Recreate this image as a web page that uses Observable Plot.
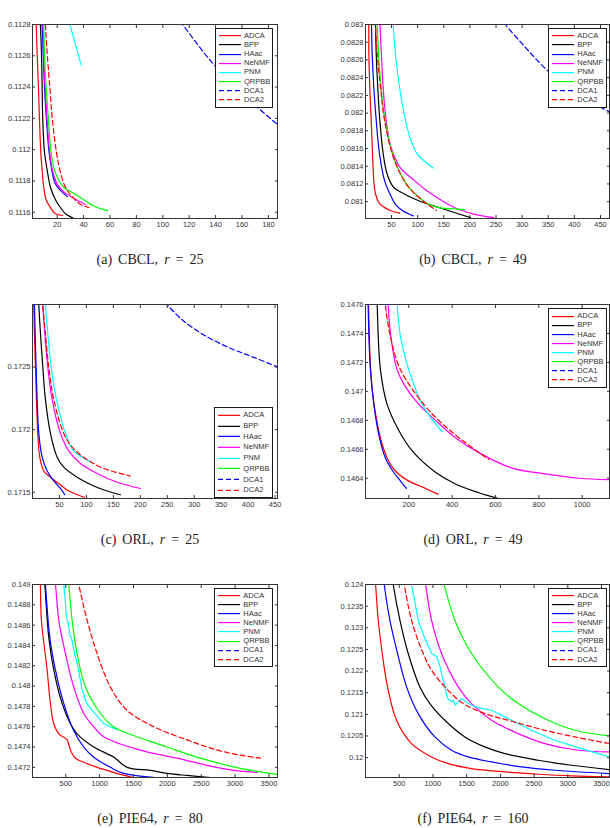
<!DOCTYPE html>
<html><head><meta charset="utf-8">
<script src="https://cdn.jsdelivr.net/npm/d3@7"></script>
<script src="https://cdn.jsdelivr.net/npm/@observablehq/plot@0.6"></script>
<style>
body{margin:0;background:#fff;}
#root{position:relative;width:610px;height:828px;overflow:hidden;background:#fff;}
.panel{position:absolute;}
.legend{position:absolute;background:#fff;border:1px solid #1a1a1a;box-sizing:border-box;font-family:"Liberation Sans",Arial,sans-serif;font-size:7.5px;color:#333;}
.legend .row{position:relative;}
.legend svg{position:absolute;left:3px;top:0;}
.legend span{position:absolute;left:28px;line-height:1;}
.caption{position:absolute;font-family:"Liberation Serif","Times New Roman",serif;font-size:14px;color:#222;transform:translate(-50%,-50%);white-space:nowrap;word-spacing:2.5px;}
</style>
</head><body><div id="root"></div>
<script>
// ---------- series definitions ----------
const seriesNames = ["ADCA","BPP","HAac","NeNMF","PNM","QRPBB","DCA1","DCA2"];
const seriesColors = ["#ff0000","#000000","#0000ff","#ff00ff","#00ffff","#00ff00","#0000ff","#ff0000"];
const seriesDash = [null,null,null,null,null,null,"5,3","5,3"];

// ---------- tick labels ----------
const xTicksA = [20,40,60,80,100,120,140,160,180];
const yTicksA = [0.1116,0.1118,0.112,0.1122,0.1124,0.1126,0.1128];
const xTicksB = [50,100,150,200,250,300,350,400,450];
const yTicksB = [0.081,0.0812,0.0814,0.0816,0.0818,0.082,0.0822,0.0824,0.0826,0.0828,0.083];
const xTicksC = [50,100,150,200,250,300,350,400,450];
const yTicksC = [0.1715,0.172,0.1725];
const xTicksD = [200,400,600,800,1000];
const yTicksD = [0.1464,0.1466,0.1468,0.147,0.1472,0.1474,0.1476];
const xTicksE = [500,1000,1500,2000,2500,3000,3500];
const yTicksE = [0.1472,0.1474,0.1476,0.1478,0.148,0.1482,0.1484,0.1486,0.1488,0.149];
const xTicksF = [500,1000,1500,2000,2500,3000,3500];
const yTicksF = [0.12,0.1205,0.121,0.1215,0.122,0.1225,0.123,0.1235,0.124];

// ---------- (a) CBCL, r = 25  (x,y pairs) ----------
const a_ADCA = [3.9,0.11285, 4.1,0.1128, 4.8,0.11262, 5.8,0.1124, 6.6,0.11219, 7.6,0.11198, 8.6,0.11187, 9.8,0.11176, 11.6,0.11168, 14.9,0.11163, 18.7,0.11159, 23.8,0.11158];
const a_BPP = [7.1,0.11285, 7.3,0.1128, 8.1,0.11262, 8.6,0.1124, 9.1,0.11219, 10.4,0.11198, 12.4,0.11187, 14.9,0.11176, 18.7,0.11168, 22.5,0.11163, 26.3,0.11159, 32.6,0.11156];
const a_HAac = [8.4,0.11285, 8.6,0.1128, 9.4,0.11262, 10.4,0.1124, 11.9,0.11219, 13.9,0.11198, 15.9,0.11187, 18.7,0.11178, 22.5,0.11174, 27.6,0.1117];
const a_NeNMF = [9.2,0.11285, 9.4,0.1128, 9.8,0.11262, 10.9,0.1124, 12.4,0.11219, 14.4,0.11198, 16.4,0.11187, 20,0.11178, 25,0.11173, 32.6,0.11169, 41.4,0.11165];
const a_PNM = [29,0.11282, 38.2,0.11254];
const a_QRPBB = [9.6,0.11285, 9.8,0.1128, 10.4,0.11262, 11.6,0.1124, 13.4,0.11219, 15.4,0.11198, 18.7,0.11185, 25,0.11176, 32.6,0.11172, 40.2,0.11168, 47.7,0.11164, 58.3,0.11161];
const a_DCA1 = [113,0.11282, 115,0.1128, 136,0.11257, 160,0.11236, 187,0.11216];
const a_DCA2 = [10.9,0.11285, 11.1,0.1128, 12.4,0.11262, 14.4,0.1124, 16.4,0.11219, 19.5,0.11198, 22,0.11187, 26.3,0.11176, 31.4,0.1117, 37.7,0.11165, 44,0.11163];

// ---------- (b) CBCL, r = 49 ----------
const b_ADCA = [6.3,0.08305, 6.5,0.083, 6.6,0.08267, 8.4,0.08229, 11.1,0.08192, 13.6,0.08154, 16.1,0.08124, 19.3,0.08109, 25.7,0.08099, 35.2,0.08094, 48,0.0809, 65.8,0.08087];
const b_BPP = [19.1,0.08305, 19.3,0.083, 20.7,0.08267, 23.7,0.08229, 27.6,0.08192, 34.1,0.08154, 41.7,0.08131, 54.4,0.08116, 73.5,0.08109, 102.2,0.08101, 137.4,0.08094, 169.2,0.08088, 201.1,0.08082];
const b_HAac = [11.5,0.08305, 11.7,0.083, 13,0.08267, 16.1,0.08229, 20.7,0.08192, 27,0.08154, 36.6,0.08124, 46.7,0.08109, 57.6,0.08097, 70.4,0.0809, 91.5,0.08084];
const b_NeNMF = [27.6,0.08305, 27.8,0.083, 30.6,0.08267, 34,0.08229, 39.6,0.08192, 48.8,0.08162, 66,0.08139, 93.5,0.08124, 118.3,0.08112, 147,0.08101, 175.7,0.08092, 207.5,0.08086, 245.7,0.08082];
const b_PNM = [52.8,0.08305, 53.2,0.083, 57.6,0.08267, 65.3,0.08229, 76.7,0.08192, 85,0.08173, 99.1,0.08154, 129.8,0.08138];
const b_QRPBB = [22,0.08305, 22.6,0.083, 25,0.08267, 30,0.08229, 37.5,0.08192, 52,0.08154, 67.5,0.08131, 83.5,0.08116, 102.2,0.08105, 118.3,0.08098, 143.7,0.08093, 169.2,0.08092, 189.7,0.08091];
const b_DCA1 = [266,0.08302, 268,0.083, 305,0.08275, 345,0.0825, 400,0.08224, 468,0.08201];
const b_DCA2 = [19.1,0.08305, 19.3,0.083, 22.6,0.08267, 28.9,0.08229, 36.6,0.08192, 51.3,0.08154, 67.2,0.08131, 83.1,0.08116, 102.2,0.08105, 121.3,0.08096, 136.1,0.0809];

// ---------- (c) ORL, r = 25 ----------
const c_ADCA = [2.2,0.17305, 2.4,0.173, 3.6,0.17277, 5.5,0.1725, 7.3,0.17224, 9.8,0.17197, 13.5,0.17178, 21,0.17167, 33.3,0.17162, 48.7,0.17157, 67.3,0.17151, 96.4,0.17146];
const c_BPP = [11.5,0.17305, 11.7,0.173, 14.8,0.17277, 19.1,0.1725, 24,0.17224, 33.3,0.17197, 45.7,0.17178, 58,0.1717, 82.8,0.17162, 113.7,0.17155, 138.5,0.17151, 163.2,0.17148];
const c_HAac = [3.4,0.17305, 3.6,0.173, 4.9,0.17277, 6.7,0.1725, 8.6,0.17224, 11.7,0.17197, 17.9,0.17178, 27.2,0.17167, 39.5,0.17159, 51.9,0.17153, 59.9,0.17148];
const c_NeNMF = [18.9,0.17305, 19.1,0.173, 22.8,0.17277, 28.4,0.1725, 36.5,0.17224, 51.9,0.17197, 67.3,0.17183, 89,0.17173, 120,0.17165, 157.1,0.17158, 200.3,0.17153];
const c_PNM = [23.8,0.17305, 24,0.173, 28.4,0.17277, 34.6,0.1725, 44.5,0.17224, 61.2,0.17197, 76.6,0.17183, 113.7,0.17173];
const c_DCA1 = [246,0.17302, 249.7,0.173, 277.5,0.172878, 317.7,0.172757, 367.2,0.17265, 410.4,0.172578, 455,0.1725];
const c_DCA2 = [18.9,0.17305, 19.1,0.173, 24,0.17277, 30.2,0.1725, 39.5,0.17224, 58,0.17197, 73.5,0.17186, 101.4,0.17176, 132.2,0.17169, 181.7,0.17163];

// ---------- (d) ORL, r = 49 ----------
const d_ADCA = [13,0.1477, 14,0.1476, 24,0.14715, 40,0.14691, 69,0.14668, 100,0.14654, 138,0.14645, 200,0.14638, 261.5,0.14634, 335,0.14629];
const d_BPP = [52,0.1477, 54,0.1476, 69,0.14715, 100,0.14691, 154,0.14673, 215,0.14659, 315,0.14645, 415,0.14636, 523,0.1463, 615,0.14626];
const d_HAac = [12,0.1477, 12.3,0.1476, 23,0.14715, 38.5,0.14691, 64.6,0.14668, 92,0.14654, 126,0.14645, 161.5,0.14638, 189,0.14633];
const d_NeNMF = [102,0.1477, 104.6,0.1476, 117,0.14738, 146,0.14715, 177,0.14705, 246,0.14691, 323,0.1468, 415,0.14668, 531,0.14657, 677,0.14647, 831,0.14643, 985,0.1464, 1126,0.14639];
const d_PNM = [144,0.1477, 146,0.1476, 161.5,0.14738, 200,0.14715, 261.5,0.14691, 354,0.14672];
const d_DCA2 = [90,0.1477, 92,0.1476, 115,0.14738, 161.5,0.14715, 269,0.14691, 338,0.1468, 431,0.14668, 569,0.14653];

// ---------- (e) PIE64, r = 80 ----------
const e_ADCA = [120.6,0.14905, 125.3,0.149, 140.3,0.14865, 224.6,0.14816, 273.3,0.14783, 323,0.14763, 397,0.14753, 519.7,0.14747, 569.3,0.14737, 642.4,0.14729, 766,0.14725, 962.7,0.1472, 1109.8,0.14717, 1307.4,0.14713, 1504.1,0.1471];
const e_BPP = [181.5,0.14905, 190,0.149, 249,0.14848, 323,0.14816, 445.7,0.14783, 569.3,0.14763, 667.7,0.14753, 913.1,0.1474, 1209.1,0.1473, 1405.8,0.1472, 1750.5,0.14717, 1995.9,0.14714, 2291,0.14712, 2635.7,0.1471];
const e_HAac = [190.9,0.14905, 199.3,0.149, 263.9,0.14848, 347.3,0.14816, 470,0.14783, 618,0.14756, 766,0.1474, 913.1,0.1473, 1159.4,0.1472, 1356.2,0.14714, 1823.6,0.1471];
const e_NeNMF = [331.4,0.14905, 347.3,0.149, 397,0.14865, 495.3,0.14832, 618,0.14799, 766,0.14773, 913.1,0.1476, 1061.1,0.1475, 1307.4,0.14743, 1602.5,0.14737, 1848.9,0.14733, 2143.9,0.14729, 2587,0.14722, 2980.4,0.14717, 3325,0.14715];
const e_PNM = [462.5,0.14905, 470,0.149, 481.3,0.14892, 492.5,0.14884, 500,0.14876, 509.4,0.14868, 528.1,0.14864, 546.8,0.14856, 565.6,0.14849, 583.4,0.14848, 612.4,0.14838, 640.5,0.14829, 668.6,0.14822, 692,0.14816, 706.1,0.14808, 720.1,0.14806, 734.2,0.14798, 748.2,0.14795, 762.3,0.14793, 776.3,0.14789, 790.4,0.14786, 827.8,0.14781, 888.7,0.14776, 968.4,0.1477, 1061.1,0.14763, 1155.7,0.1476, 1257.8,0.14757];
const e_QRPBB = [537.5,0.14905, 544,0.149, 593.7,0.14865, 667.7,0.14832, 790.4,0.14799, 1011.5,0.14773, 1183.8,0.14761, 1356.2,0.14755, 1995.9,0.1474, 2488.6,0.14729, 3078.8,0.14719, 3620,0.14713];
const e_DCA2 = [678,0.14905, 692,0.149, 814.7,0.14865, 962.7,0.14832, 1159.4,0.14799, 1405.8,0.14776, 1799.2,0.1476, 2291,0.14747, 2734,0.14737, 3078.8,0.14732, 3373.8,0.14729];

// ---------- (f) PIE64, r = 160 ----------
const f_ADCA = [143.2,0.1241, 149.4,0.124, 189.1,0.123175, 248.2,0.122405, 326.7,0.121634, 460.2,0.120863, 682.5,0.120324, 979.1,0.120015, 1226.8,0.119861, 1572.3,0.119746, 2066.6,0.119669, 2560,0.119615, 3054.4,0.119576, 3618,0.119553];
const f_BPP = [403.2,0.1241, 411.3,0.124, 510.2,0.123175, 633.5,0.122405, 805.8,0.121634, 954.6,0.121249, 1176.8,0.120863, 1473.4,0.120478, 1770,0.120247, 2066.6,0.120092, 2560,0.119938, 3054.4,0.119823, 3618,0.119723];
const f_HAac = [270.7,0.1241, 277.8,0.124, 361.4,0.123175, 475.5,0.122405, 609,0.121634, 781.3,0.121017, 1029,0.120478, 1275.7,0.12017, 1522.4,0.120015, 1868.9,0.1199, 2313.4,0.119784, 2807.7,0.119707, 3618,0.11963];
const f_NeNMF = [877.1,0.1241, 890.4,0.124, 979.1,0.123175, 1127.9,0.122405, 1374.6,0.121634, 1572.3,0.121249, 1868.9,0.120863, 2264.3,0.120555, 2658.8,0.120324, 3153.2,0.12017, 3618,0.120131];
const f_PNM = [673.3,0.1241, 682.5,0.124, 781.3,0.123175, 871,0.12279, 939.3,0.122559, 979.1,0.122405, 1053.5,0.122343, 1093.3,0.122173, 1127.9,0.121942, 1176.8,0.121634, 1216.6,0.121364, 1275.7,0.121287, 1300.1,0.121326, 1334.8,0.12121, 1374.6,0.121287, 1423.5,0.121364, 1473.4,0.12131, 1572.3,0.12121, 1671.2,0.121156, 1868.9,0.121094, 2165.5,0.120863, 2461.1,0.120632, 2807.7,0.120401, 3203.2,0.120208, 3618,0.120015];
const f_QRPBB = [1152.4,0.1241, 1166.6,0.124, 1325.6,0.123175, 1572.3,0.122405, 1967.8,0.121634, 2264.3,0.121249, 2708.8,0.120863, 3104.3,0.120632, 3618,0.120501];
const f_DCA2 = [561.2,0.1241, 574.4,0.124, 682.5,0.123175, 855.7,0.122405, 979.1,0.12202, 1176.8,0.121634, 1448.9,0.121249, 1770,0.121017, 2115.6,0.120863, 2658.8,0.120632, 3104.3,0.120478, 3618,0.120324];

// ---------- captions ----------
const captionLabels = ["(a) CBCL,","(b) CBCL,","(c) ORL,","(d) ORL,","(e) PIE64,","(f) PIE64,"];
const captionRanks = ["25","49","25","49","80","160"];

// ---------- layout (positions only) ----------
const panels = [
  {series:{ADCA:a_ADCA,BPP:a_BPP,HAac:a_HAac,NeNMF:a_NeNMF,PNM:a_PNM,QRPBB:a_QRPBB,DCA1:a_DCA1,DCA2:a_DCA2},
   xd:[1.3,186.9], yd:[0.11156,0.1128], xt:xTicksA, yt:yTicksA, left:0, top:4, h:234, ml:32, mr:28,
   lg:{x:215,y:28,w:58.4,row:9.14,pad:2.3}, cap:{x:150,y:260}, jag:false},
  {series:{ADCA:b_ADCA,BPP:b_BPP,HAac:b_HAac,NeNMF:b_NeNMF,PNM:b_PNM,QRPBB:b_QRPBB,DCA1:b_DCA1,DCA2:b_DCA2},
   xd:[0.2,467.2], yd:[0.08081,0.083], xt:xTicksB, yt:yTicksB, left:305, top:4, h:234, ml:60, mr:1,
   lg:{x:548.3,y:28,w:58.4,row:9.14,pad:2.3}, cap:{x:473,y:260}, jag:false},
  {series:{ADCA:c_ADCA,BPP:c_BPP,HAac:c_HAac,NeNMF:c_NeNMF,PNM:c_PNM,DCA1:c_DCA1,DCA2:c_DCA2},
   xd:[0,454.5], yd:[0.17145,0.173], xt:xTicksC, yt:yTicksC, left:0, top:284, h:234, ml:32, mr:28,
   lg:{x:214.3,y:407.3,w:58.4,row:10.7,pad:1.7}, cap:{x:150,y:540}, jag:false},
  {series:{ADCA:d_ADCA,BPP:d_BPP,HAac:d_HAac,NeNMF:d_NeNMF,PNM:d_PNM,DCA2:d_DCA2},
   xd:[0.2,1126], yd:[0.14626,0.1476], xt:xTicksD, yt:yTicksD, left:305, top:284, h:234, ml:60, mr:1,
   lg:{x:548.3,y:308.3,w:58.4,row:9.14,pad:2.3}, cap:{x:473,y:540}, jag:false},
  {series:{ADCA:e_ADCA,BPP:e_BPP,HAac:e_HAac,NeNMF:e_NeNMF,PNM:e_PNM,QRPBB:e_QRPBB,DCA2:e_DCA2},
   xd:[9,3626], yd:[0.1471,0.149], xt:xTicksE, yt:yTicksE, left:0, top:564, h:233, ml:32, mr:28,
   lg:{x:214.3,y:587.7,w:58.4,row:9.14,pad:2.3}, cap:{x:150,y:819}, jag:true},
  {series:{ADCA:f_ADCA,BPP:f_BPP,HAac:f_HAac,NeNMF:f_NeNMF,PNM:f_PNM,QRPBB:f_QRPBB,DCA2:f_DCA2},
   xd:[0,3618], yd:[0.11954,0.124], xt:xTicksF, yt:yTicksF, left:305, top:564, h:233, ml:60, mr:1,
   lg:{x:548.3,y:587.7,w:58.4,row:9.14,pad:2.3}, cap:{x:473,y:819}, jag:true}
];

const root = document.getElementById("root");

panels.forEach((p, pi) => {
  const marks = [];
  seriesNames.forEach((name, i) => {
    const arr = p.series[name];
    if (!arr) return;
    const pts = [];
    for (let k = 0; k < arr.length; k += 2) pts.push({x: arr[k], y: arr[k+1], s: name});
    marks.push(Plot.line(pts, {
      x: "x", y: "y", stroke: "s", strokeWidth: 1.2,
      strokeDasharray: seriesDash[i] || undefined,
      curve: (p.jag && name === "PNM") ? "linear" : "catmull-rom",
      clip: true
    }));
  });
  const fmt = d => String(d);
  const chart = Plot.plot({
    width: 305, height: p.h,
    marginLeft: p.ml, marginRight: p.mr, marginTop: 20, marginBottom: 20,
    style: {fontFamily: "'Liberation Sans', Arial, sans-serif", fontSize: "7.5px", color: "#333", background: "transparent", overflow: "visible"},
    x: {domain: p.xd},
    y: {domain: p.yd},
    color: {domain: seriesNames, range: seriesColors},
    marks: [
      ...marks,
      Plot.axisX({ticks: p.xt, tickSize: -3, tickPadding: 6, tickFormat: fmt, label: null, stroke: "#333"}),
      Plot.axisX({anchor: "top", ticks: p.xt, tickSize: -3, tickFormat: () => "", label: null, stroke: "#333"}),
      Plot.axisY({ticks: p.yt, tickSize: -3, tickPadding: 5, tickFormat: fmt, label: null, stroke: "#333"}),
      Plot.axisY({anchor: "right", ticks: p.yt, tickSize: -3, tickFormat: () => "", label: null, stroke: "#333"}),
      Plot.frame({stroke: "#333", strokeWidth: 1})
    ]
  });
  const wrap = document.createElement("div");
  wrap.className = "panel";
  wrap.style.left = p.left + "px";
  wrap.style.top = p.top + "px";
  wrap.appendChild(chart);
  root.appendChild(wrap);

  // legend
  const lg = document.createElement("div");
  lg.className = "legend";
  lg.style.left = p.lg.x + "px";
  lg.style.top = p.lg.y + "px";
  lg.style.width = p.lg.w + "px";
  lg.style.height = (p.lg.row * seriesNames.length + 2 * p.lg.pad + 2) + "px";
  lg.style.paddingTop = p.lg.pad + "px";
  seriesNames.forEach((name, i) => {
    const row = document.createElement("div");
    row.className = "row";
    row.style.height = p.lg.row + "px";
    const h = p.lg.row;
    const dash = seriesDash[i] ? ` stroke-dasharray="${seriesDash[i]}"` : "";
    row.innerHTML = `<svg width="22" height="${h}"><line x1="0" x2="22" y1="${h/2}" y2="${h/2}" stroke="${seriesColors[i]}" stroke-width="1.2"${dash}/></svg><span style="top:${h/2 - 3.9}px">${name}</span>`;
    lg.appendChild(row);
  });
  root.appendChild(lg);

  // caption
  const cap = document.createElement("div");
  cap.className = "caption";
  cap.style.left = p.cap.x + "px";
  cap.style.top = p.cap.y + "px";
  cap.innerHTML = `${captionLabels[pi]} <i>r</i> = ${captionRanks[pi]}`;
  root.appendChild(cap);
});
</script></body></html>
